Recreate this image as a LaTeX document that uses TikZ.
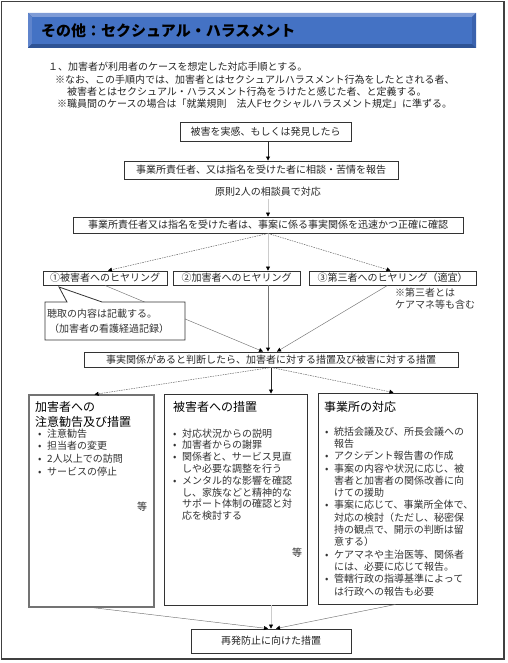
\documentclass[tikz,border=0pt]{standalone}
\usepackage{fontspec}
\setmainfont{Noto Sans CJK JP}
\usetikzlibrary{arrows.meta,calc}
\newcommand\fsz[2]{\fontsize{#1}{#2}\selectfont}
\newcommand\bul{\makebox[9pt][l]{•}}
\newcommand\ind{\hspace*{9pt}}
\definecolor{bannerface}{HTML}{4472C4}
\definecolor{bannerlight}{HTML}{7E9BD6}
\definecolor{bannerleft}{HTML}{5F84CC}
\definecolor{bannerdark}{HTML}{2E5395}
\definecolor{bannerright}{HTML}{3A62AE}
\begin{document}
\begin{tikzpicture}[x=1pt,y=-1pt,
  box/.style={draw=black!80, line width=0.9pt, fill=white, inner sep=0pt, font=\fsz{10}{12}, text=black!85},
  bigbox/.style={draw=black!80, line width=0.9pt, fill=white, inner sep=0pt},
  tipk/.style={-{Triangle[length=4pt,width=4pt,color=black]}},
  dconn/.style={tipk, draw=black!60, line width=0.5pt, dash pattern=on 1.5pt off 1pt},
  sconn/.style={tipk, draw=black!55, line width=0.9pt},
  kconn/.style={tipk, draw=black!85, line width=0.8pt},
  tconn/.style={tipk, draw=black!55, line width=0.45pt},
  fconn/.style={tipk, draw=black!20, line width=0.5pt},
  txt/.style={inner sep=0pt, font=\fsz{10}{12}, text=black!85, anchor=west},
  list/.style={inner sep=0pt, anchor=north west, align=left, text=black!80},
]
\useasboundingbox (0,0) rectangle (507,663);
% outer frame
\draw[line width=1.3pt, draw=black!75] (1.5,1.5) rectangle (504,659);

% title banner
\fill[bannerdark] (28,13) rectangle (476,48);
\fill[bannerlight] (28,13) -- (476,13) -- (472,17) -- (32,17) -- cycle;
\fill[bannerleft] (28,13) -- (32,17) -- (32,44) -- (28,48) -- cycle;
\fill[bannerdark] (28,48) -- (476,48) -- (472,44) -- (32,44) -- cycle;
\fill[bannerright] (476,13) -- (476,48) -- (472,44) -- (472,17) -- cycle;
\fill[bannerface] (32,17) rectangle (472,44);
\node[inner sep=0pt, anchor=west, font=\fsz{15}{18}\bfseries] (title) at (41,31) {その他：セクシュアル・ハラスメント};

% intro text
\node[txt] (i1) at (48,67) {１、加害者が利用者のケースを想定した対応手順とする。};
\node[txt] (i2) at (55,79.5) {※なお、この手順内では、加害者とはセクシュアルハラスメント行為をしたとされる者、};
\node[txt] (i3) at (67,92) {被害者とはセクシュアル・ハラスメント行為をうけたと感じた者、と定義する。};
\node[txt] (i4) at (57,104) {※職員間のケースの場合は「就業規則　法人Fセクシャルハラスメント規定」に準ずる。};

% flow boxes
\node[box, minimum width=171, minimum height=19] (A) at (265.5,131.5) {被害を実感、もしくは発見したら};
\node[box, minimum width=274, minimum height=18] (B) at (261,170) {事業所責任者、又は指名を受けた者に相談・苦情を報告};
\node[txt, anchor=center] (N) at (268,192) {原則2人の相談員で対応};
\node[box, minimum width=390, minimum height=16] (C) at (268,225) {事業所責任者又は指名を受けた者は、事案に係る事実関係を迅速かつ正確に確認};
\node[box, minimum width=124, minimum height=14] (D1) at (105,278) {①被害者へのヒヤリング};
\node[box, minimum width=127, minimum height=14] (D2) at (236.5,278) {②加害者へのヒヤリング};
\node[box, minimum width=167, minimum height=14] (D3) at (392.5,278) {③第三者へのヒヤリング（適宜）};
\node[list, font=\fsz{10}{12}] (D3n) at (395,288) {※第三者とは\\ケアマネ等も含む};
\node[box, minimum width=374, minimum height=15] (F) at (271,359.5) {事実関係があると判断したら、加害者に対する措置及び被害に対する措置};

% connectors upper part
\draw[kconn] (A.south -| C.north) -- (B.north -| C.north);
\draw[fconn] ($(N.south -| C.north)+(0,2)$) -- (C.north);
\draw[dconn] (C.south) -- ($(D1.north)+(3,0)$);
\draw[fconn] (C.south) -- (D2.north -| C.south);
\draw[dconn] (C.south) -- ($(D3.north)+(-2,0)$);
\draw[tconn] (D1.south) -- ($(F.north)+(-8,0)$);
\draw[sconn] (D2.south -| C.south) -- (F.north -| C.south);
\draw[tconn] ($(D3.south)+(-5,0)$) -- ($(F.north)+(6,0)$);

% callout
\draw[draw=black!80, line width=0.8pt, fill=white] (45,302) -- (67,302) -- (59,287) -- (102,302) -- (185,302) -- (185,340) -- (45,340) -- cycle;
\node[list, font=\fsz{10}{15}] (callout) at (47,308.5) {聴取の内容は記載する。\\\hspace*{2pt}（加害者の看護経過記録）};

% big boxes
\node[bigbox, draw=black!55, line width=1.2pt, minimum width=125, minimum height=212] (L) at (91.5,501) {};
\node[bigbox, minimum width=143, minimum height=211] (M) at (235.5,499.5) {};
\node[bigbox, minimum width=159, minimum height=211] (R) at (397.5,498.5) {};

\draw[dconn] (F.south) -- ($(L.north)+(3,0)$);
\draw[kconn] (F.south) -- (M.north -| F.south);
\draw[dconn] (F.south) -- ($(R.north)+(-4,0)$);

% left box text
\node[list, text=black, font=\fsz{12}{15}] (Lt) at (35,401.5) {加害者への\\注意勧告及び措置};
\node[list, font=\fsz{10}{12.8}] (Ll) at (38,428.5) {\bul 注意勧告\\\bul 担当者の変更\\\bul 2人以上での訪問\\\bul サービスの停止};
\node[txt, anchor=center] (Le) at (142,507) {等};

% middle box text
\node[list, text=black, font=\fsz{12}{15}] (Mt) at (173,401.5) {被害者への措置};
\node[list, font=\fsz{10}{11.8}] (Ml) at (173,428.5) {\bul 対応状況からの説明\\\bul 加害者からの謝罪\\\bul 関係者と、サービス見直\\\ind しや必要な調整を行う\\\bul メンタル的な影響を確認\\\ind し、家族などと精神的な\\\ind サポート体制の確認と対\\\ind 応を検討する};
\node[txt, anchor=center] (Me) at (297,553) {等};

% right box text
\node[list, text=black, font=\fsz{12}{15}] (Rt) at (324,401.5) {事業所の対応};
\node[list, font=\fsz{10}{12.3}] (Rl) at (325,426.5) {\bul 統括会議及び、所長会議への\\\ind 報告\\\bul アクシデント報告書の作成\\\bul 事案の内容や状況に応じ、被\\\ind 害者と加害者の関係改善に向\\\ind けての援助\\\bul 事案に応じて、事業所全体で、\\\ind 対応の検討（ただし、秘密保\\\ind 持の観点で、開示の判断は留\\\ind 意する）\\\bul ケアマネや主治医等、関係者\\\ind には、必要に応じて報告。\\\bul 管轄行政の指導基準によって\\\ind は行政への報告も必要};

% final box
\node[box, minimum width=160, minimum height=24] (G) at (271,641) {再発防止に向けた措置};
\draw[tconn] ($(L.south)+(1,0)$) -- ($(G.north)+(-3,0)$);
\draw[fconn] (M.south -| G.north) -- (G.north);
\draw[tconn] ($(R.south)+(-2,0)$) -- ($(G.north)+(5,0)$);
\end{tikzpicture}
\end{document}
